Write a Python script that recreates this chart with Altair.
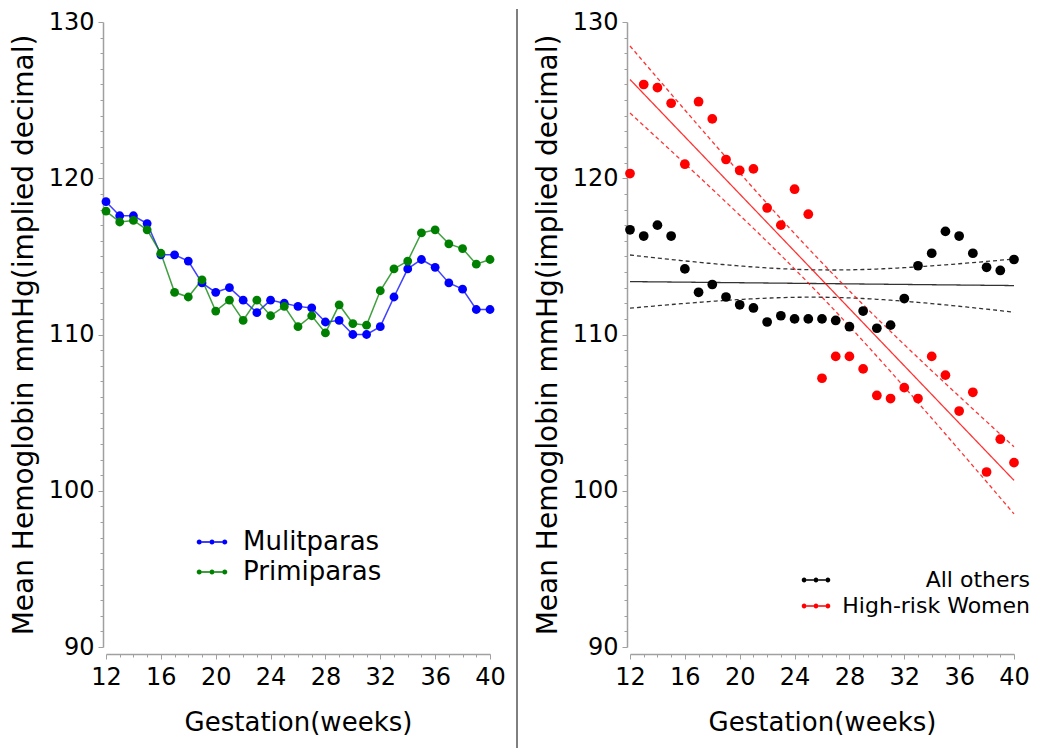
import altair as alt
import numpy as np
import pandas as pd

# ---------------- data ----------------
weeks = list(range(12, 41))

mulitparas = [118.5, 117.6, 117.6, 117.1, 115.1, 115.1, 114.7, 113.3, 112.7, 113.0,
              112.2, 111.4, 112.2, 112.0, 111.8, 111.7, 110.8, 110.9, 110.0, 110.0,
              110.5, 112.4, 114.2, 114.8, 114.3, 113.3, 112.9, 111.6, 111.6]
primiparas = [117.9, 117.2, 117.3, 116.7, 115.2, 112.7, 112.4, 113.5, 111.5, 112.2,
              110.9, 112.2, 111.2, 111.8, 110.5, 111.2, 110.1, 111.9, 110.7, 110.6,
              112.8, 114.2, 114.7, 116.5, 116.7, 115.8, 115.5, 114.5, 114.8]
all_others = [116.7, 116.3, 117.0, 116.3, 114.2, 112.7, 113.2, 112.4, 111.9, 111.7,
              110.8, 111.2, 111.0, 111.0, 111.0, 110.9, 110.5, 111.5, 110.4, 110.6,
              112.3, 114.4, 115.2, 116.6, 116.3, 115.2, 114.3, 114.1, 114.8]
high_risk = [120.3, 126.0, 125.8, 124.8, 120.9, 124.9, 123.8, 121.2, 120.5, 120.6,
             118.1, 117.0, 119.3, 117.7, 107.2, 108.6, 108.6, 107.8, 106.1, 105.9,
             106.6, 105.9, 108.6, 107.4, 105.1, 106.3, 101.2, 103.3, 101.8]

left_groups = ["Mulitparas", "Primiparas"]
right_groups = ["All others", "High-risk Women"]
x_major = [12, 16, 20, 24, 28, 32, 36, 40]
y_major = [90, 100, 110, 120, 130]

# ---------------- styling ----------------
FONT = "DejaVu Sans"
W, H = 384, 625
T975 = 2.0518  # Student t quantile, 27 degrees of freedom

left_df = pd.DataFrame({
    "week": weeks * 2,
    "hb": mulitparas + primiparas,
    "group": [left_groups[0]] * len(weeks) + [left_groups[1]] * len(weeks),
})
right_df = pd.DataFrame({
    "week": weeks * 2,
    "hb": all_others + high_risk,
    "group": [right_groups[0]] * len(weeks) + [right_groups[1]] * len(weeks),
})


def ols_band(x, y, grid):
    x = np.asarray(x, float)
    y = np.asarray(y, float)
    n = len(x)
    b, a = np.polyfit(x, y, 1)
    resid = y - (a + b * x)
    s = np.sqrt((resid ** 2).sum() / (n - 2))
    sxx = ((x - x.mean()) ** 2).sum()
    fit = a + b * grid
    se = s * np.sqrt(1.0 / n + (grid - x.mean()) ** 2 / sxx)
    return fit, fit - T975 * se, fit + T975 * se


grid = np.linspace(12, 40, 113)
rows = []
for name, ys in zip(right_groups, [all_others, high_risk]):
    fit, lo, hi = ols_band(weeks, ys, grid)
    for part, arr, style in [("fit", fit, "solid"), ("lower", lo, "dash"), ("upper", hi, "dash")]:
        for g, v in zip(grid, arr):
            rows.append({"week": float(g), "hb": float(v), "group": name,
                         "part": name + "-" + part, "style": style})
lines_df = pd.DataFrame(rows)

minor_x = [float(v) for v in np.arange(x_major[0], x_major[-1] + 0.001, 0.25)]
minor_y = list(range(y_major[0], y_major[-1] + 1))

x_scale = alt.Scale(domain=[x_major[0], x_major[-1]], nice=False, zero=False)
y_scale = alt.Scale(domain=[y_major[0], y_major[-1]], nice=False, zero=False)


def x_axis():
    return alt.Axis(values=minor_x, format="d",
                    labelExpr="datum.value % 4 === 0 ? datum.label : ''",
                    tickSize={"condition": {"test": "datum.value % 4 === 0", "value": 5}, "value": 3},
                    title="Gestation(weeks)", titleFontSize=26, offset=7,
                    labelPadding=6, titlePadding=20, labelOverlap=False,
                    labelFlush=False, grid=False)


def y_axis():
    return alt.Axis(values=minor_y, format="d",
                    labelExpr="datum.value % 10 === 0 ? datum.label : ''",
                    tickSize={"condition": {"test": "datum.value % 10 === 0", "value": 5}, "value": 3},
                    title="Mean Hemoglobin mmHg(implied decimal)", titleFontSize=28,
                    offset=3, labelPadding=4, titlePadding=10, labelOverlap=False,
                    labelFlush=False, grid=False)


SYMBOL = ("M-0.68,-0.05L-0.17,-0.05L-0.17,0.05L-0.68,0.05Z "
          "M0.17,-0.05L0.68,-0.05L0.68,0.05L0.17,0.05Z "
          "M-1.02,0A0.17,0.17 0 1,1 -0.68,0A0.17,0.17 0 1,1 -1.02,0Z "
          "M-0.17,0A0.17,0.17 0 1,1 0.17,0A0.17,0.17 0 1,1 -0.17,0Z "
          "M0.68,0A0.17,0.17 0 1,1 1.02,0A0.17,0.17 0 1,1 0.68,0Z")


def legend(x, y, size, fs, align="left", offset=14, row_pad=2):
    return alt.Legend(orient="none", legendX=x, legendY=y, title=None,
                      symbolType=SYMBOL, symbolSize=size, symbolOpacity=1,
                      symbolStrokeWidth=0, labelFontSize=fs, labelFont=FONT,
                      labelAlign=align, labelOffset=offset, labelLimit=400,
                      rowPadding=row_pad, padding=0)


X = alt.X("week:Q", scale=x_scale, axis=x_axis())
Y = alt.Y("hb:Q", scale=y_scale, axis=y_axis())

left_color_scale = alt.Scale(domain=left_groups, range=["#0000ff", "#008000"])
left_legend = legend(91, 505, 900, 26, offset=16)
left_lines = alt.Chart(left_df).mark_line(strokeWidth=1.5, opacity=0.75).encode(
    x=X, y=Y,
    color=alt.Color("group:N", scale=left_color_scale, legend=left_legend),
)
left_points = alt.Chart(left_df).mark_point(filled=True, size=78, opacity=1, shape="circle").encode(
    x=X, y=Y,
    color=alt.Color("group:N", scale=left_color_scale, legend=left_legend),
)
divider = alt.Chart(alt.Data(values=[{}])).mark_rule(color="black", strokeWidth=1).encode(
    x=alt.value(411), y=alt.value(-13), y2=alt.value(726)
)
left = alt.layer(left_lines, left_points, divider).properties(width=W, height=H)

right_color_scale = alt.Scale(domain=right_groups, range=["#000000", "#ff0000"])
right_legend = legend(172, 544, 784, 22, align="right", offset=200, row_pad=1)
right_lines = alt.Chart(lines_df).mark_line(strokeWidth=1.3, opacity=0.8).encode(
    x=alt.X("week:Q", scale=x_scale, axis=x_axis()),
    y=alt.Y("hb:Q", scale=y_scale, axis=y_axis()),
    color=alt.Color("group:N", scale=right_color_scale, legend=right_legend),
    strokeDash=alt.StrokeDash("style:N", scale=alt.Scale(domain=["solid", "dash"], range=[[1, 0], [4, 3]]), legend=None),
    detail="part:N",
)
right_points = alt.Chart(right_df).mark_point(filled=True, size=95, opacity=1, shape="circle").encode(
    x=alt.X("week:Q", scale=x_scale, axis=x_axis()),
    y=alt.Y("hb:Q", scale=y_scale, axis=y_axis()),
    color=alt.Color("group:N", scale=right_color_scale, legend=right_legend),
)
right = alt.layer(right_lines, right_points).properties(width=W, height=H)

chart = alt.hconcat(left, right, spacing=16).resolve_scale(
    color="independent", strokeDash="independent"
).resolve_legend(color="independent").properties(
    padding={"left": 2, "top": 0, "right": 0, "bottom": 0}
).configure(
    font=FONT
).configure_view(
    strokeWidth=0
).configure_axis(
    domainColor="#a0a0a0", domainWidth=1.5, tickColor="#a0a0a0", tickWidth=1,
    labelFont=FONT, labelFontSize=24, labelColor="black",
    titleFont=FONT, titleFontWeight="normal", titleColor="black",
)

chart.save("out.html", embed_options={"renderer": "svg", "actions": False})
